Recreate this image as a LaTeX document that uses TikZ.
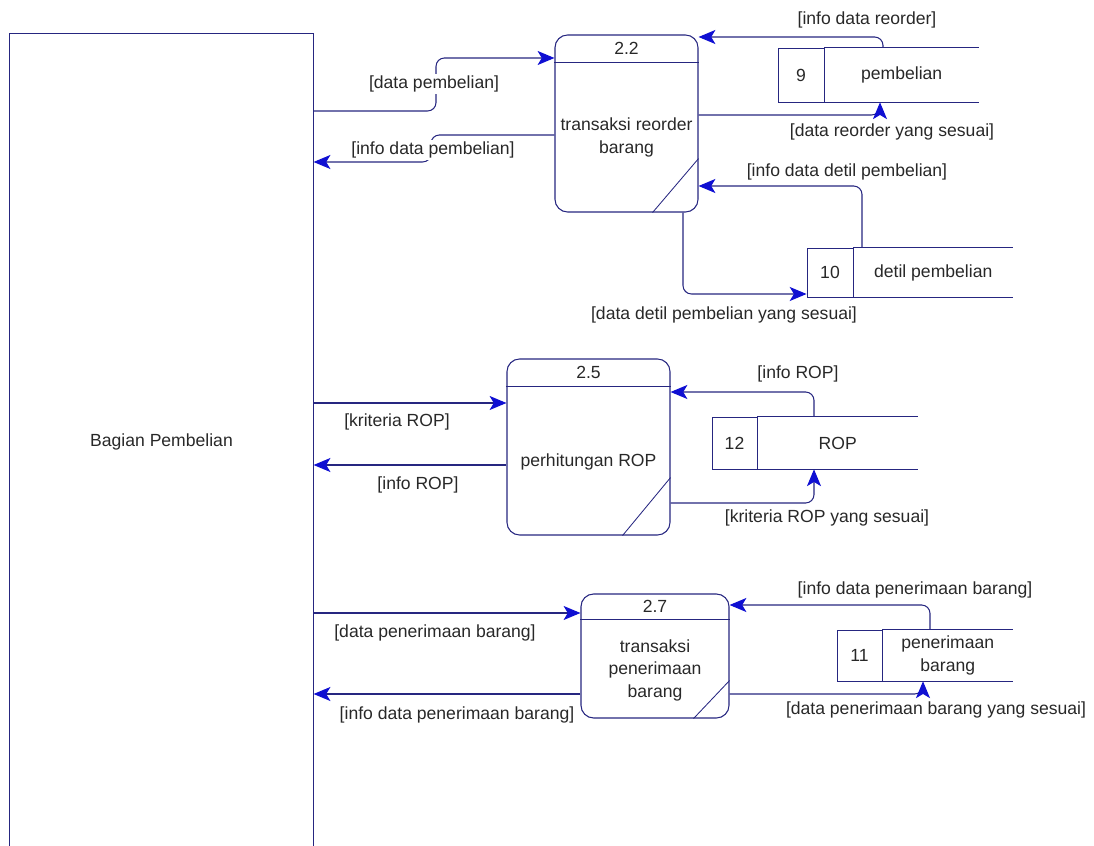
\documentclass[tikz,border=0pt]{standalone}
\usepackage{fontspec}
\setmainfont{Liberation Sans}
\usetikzlibrary{arrows.meta,positioning,calc}
\definecolor{dfdline}{RGB}{38,38,128}
\definecolor{dfdtip}{RGB}{15,15,210}
\definecolor{dfdtext}{RGB}{40,40,40}

\begin{document}
\begin{tikzpicture}[x=0.025cm,y=-0.025cm,font=\fontsize{12.5}{16}\selectfont]
            \tikzstyle{dfd}=[draw=dfdline,line width=0.75pt]
            \tikzstyle{entity}=[dfd,rectangle,inner sep=0pt,text=dfdtext]
            \tikzstyle{process}=[dfd,rectangle,rounded corners=9pt,inner sep=0pt]
            \tikzstyle{procid}=[text=dfdtext,inner sep=1pt]
            \tikzstyle{proctext}=[text=dfdtext,align=center,inner sep=1pt]
            \tikzstyle{storeid}=[dfd,line width=0.6pt,rectangle,inner sep=0pt,text=dfdtext]
            \tikzstyle{storename}=[rectangle,inner sep=0pt,align=center,text=dfdtext]
            \tikzstyle{flow}=[dfd,rounded corners=6pt,-{Stealth[length=12pt,width=10pt,inset=3pt,color=dfdtip]}]
            \tikzstyle{flowlabel}=[text=dfdtext,inner sep=1pt]

            \useasboundingbox (0,0) rectangle (1094,846);

            % external entity
            \node[entity,minimum width=7.575cm,minimum height=20.4cm] (E-beli) at (161.5,442) {Bagian Pembelian};

            % processes
            \node[process,minimum width=3.575cm,minimum height=4.425cm] (P-22) at (626.5,123.5) {};
            \node[procid] (P-22-id) at ($(P-22.north)+(0,14)$) {2.2};
            \node[proctext] (P-22-txt) at ($(P-22.center)+(0,14)$) {transaksi reorder\\barang};

            \node[process,minimum width=4.075cm,minimum height=4.4cm] (P-25) at (588.5,447) {};
            \node[procid] (P-25-id) at ($(P-25.north)+(0,14)$) {2.5};
            \node[proctext] (P-25-txt) at ($(P-25.center)+(0,15)$) {perhitungan ROP};

            \node[process,minimum width=3.7cm,minimum height=3.1cm] (P-27) at (655,656) {};
            \node[procid] (P-27-id) at ($(P-27.north)+(0,13)$) {2.7};
            \node[proctext] (P-27-txt) at ($(P-27.center)+(0,14)$) {transaksi\\penerimaan\\barang};

            \foreach \p/\h/\a/\b in {P-22/28/46/54, P-25/28/48/58, P-27/26/36/38} {
              \draw[dfd] ($(\p.north west)+(0,\h)$) -- ($(\p.north east)+(0,\h)$);
              \draw[dfd,line width=0.6pt] ($(\p.south east)+(-\a,0)$) -- ($(\p.south east)+(0,-\b)$);
            }

            % data stores
            \node[storeid,minimum width=1.15cm,minimum height=1.35cm] (S-9-id) at (801,75) {9};
            \node[storename,minimum width=3.85cm,minimum height=1.35cm,right=0pt of S-9-id] (S-9) {pembelian};

            \node[storeid,minimum width=1.15cm,minimum height=1.225cm] (S-10-id) at (830,272.5) {10};
            \node[storename,minimum width=3.975cm,minimum height=1.225cm,right=0pt of S-10-id] (S-10) {detil pembelian};

            \node[storeid,minimum width=1.125cm,minimum height=1.3cm] (S-12-id) at (734.5,443) {12};
            \node[storename,minimum width=4cm,minimum height=1.3cm,right=0pt of S-12-id] (S-12) {ROP};

            \node[storeid,minimum width=1.125cm,minimum height=1.275cm] (S-11-id) at (859.5,655.5) {11};
            \node[storename,minimum width=3.25cm,minimum height=1.275cm,right=0pt of S-11-id] (S-11) {penerimaan\\barang};

            \foreach \s in {S-9,S-10,S-12,S-11}
              \draw[dfd] (\s.north west) -- (\s.north east) (\s.south west) -- (\s.south east);

            % flows of 2.2
            \draw[flow] (E-beli.east |- 0,111) -| (436,58) -- (P-22.west |- 0,58);
            \draw[flow] (P-22.west |- 0,135) -| (431,162) -- (E-beli.east |- 0,162);
            \draw[flow] (S-9.north -| 883,0) |- (P-22.east |- 0,37);
            \draw[flow] (P-22.east |- 0,115) -| (S-9.south -| 880,0);
            \draw[flow] (S-10.north -| 862,0) |- (P-22.east |- 0,186);
            \draw[flow] (P-22.south -| 683,0) |- (S-10-id.west |- 0,294);

            % flows of 2.5
            \draw[flow] (E-beli.east |- 0,403) -- (P-25.west |- 0,403);
            \draw[flow] (P-25.west |- 0,465) -- (E-beli.east |- 0,465);
            \draw[flow] (S-12.north -| 814,0) |- (P-25.east |- 0,392);
            \draw[flow] (P-25.east |- 0,503) -| (S-12.south -| 814,0);

            % flows of 2.7
            \draw[flow] (E-beli.east |- 0,613) -- (P-27.west |- 0,613);
            \draw[flow] (P-27.west |- 0,694) -- (E-beli.east |- 0,694);
            \draw[flow] (S-11.north -| 930,0) |- (P-27.east |- 0,605);
            \draw[flow] (P-27.east |- 0,694) -| (S-11.south -| 923,0);

            % flow labels
            \node[flowlabel,fill=white] (L-1) at (434,84) {[data pembelian]};
            \node[flowlabel,fill=white] (L-2) at (433,150) {[info data pembelian]};
            \node[flowlabel] (L-3) at (867,20) {[info data reorder]};
            \node[flowlabel] (L-4) at (892,132) {[data reorder yang sesuai]};
            \node[flowlabel] (L-5) at (847,172) {[info data detil pembelian]};
            \node[flowlabel] (L-6) at (724,315) {[data detil pembelian yang sesuai]};
            \node[flowlabel] (L-7) at (397,422) {[kriteria ROP]};
            \node[flowlabel] (L-8) at (418,485) {[info ROP]};
            \node[flowlabel] (L-9) at (798,374) {[info ROP]};
            \node[flowlabel] (L-10) at (827,518) {[kriteria ROP yang sesuai]};
            \node[flowlabel] (L-11) at (435,633) {[data penerimaan barang]};
            \node[flowlabel] (L-12) at (457,715) {[info data penerimaan barang]};
            \node[flowlabel] (L-13) at (915,590) {[info data penerimaan barang]};
            \node[flowlabel] (L-14) at (936,710) {[data penerimaan barang yang sesuai]};
        \end{tikzpicture}
\end{document}
